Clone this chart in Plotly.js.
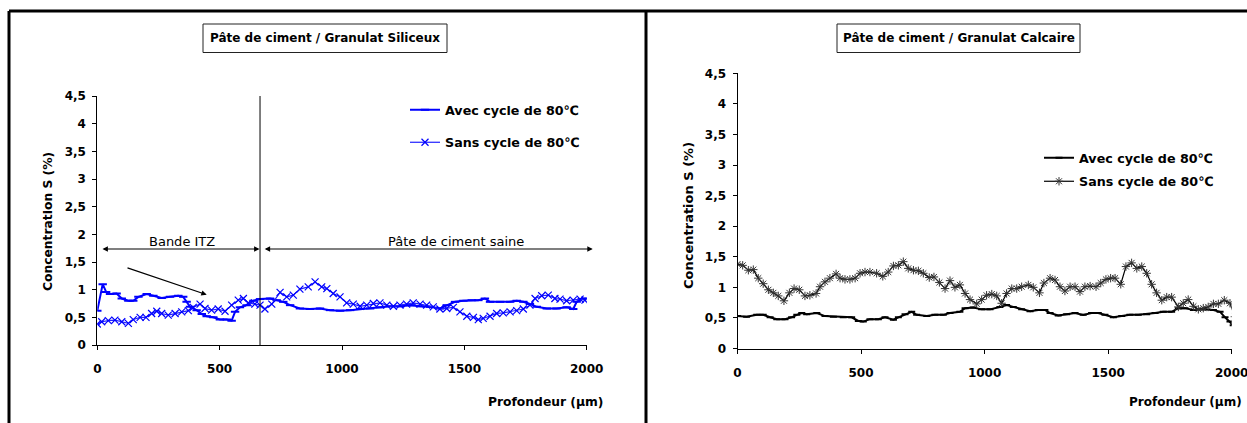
<!DOCTYPE html>
<html>
<head>
<meta charset="utf-8">
<script src="https://cdn.plot.ly/plotly-3.0.1.min.js"></script>
<style>html,body{margin:0;padding:0;background:#fff;}#chart{width:1247px;height:423px;}</style>
</head>
<body>
<div id="chart"></div>
<script>
// ---- Left chart: Pâte de ciment / Granulat Siliceux ----
const sil_avec_x = [0,22,36,52,79,100,127,147,168,202,229,263,297,331,351,365,379,406,427,447,474,501,529,549,563,583,610,638,665,706,733,760,788,828,869,910,951,992,1033,1074,1115,1155,1196,1237,1278,1319,1360,1400,1428,1462,1496,1530,1557,1584,1605,1646,1687,1714,1741,1768,1796,1837,1877,1918,1945,1959,1980,2000];
const sil_avec_y = [0.62,1.10,0.96,0.92,0.93,0.84,0.80,0.80,0.87,0.92,0.89,0.85,0.87,0.89,0.87,0.78,0.69,0.63,0.56,0.52,0.50,0.46,0.46,0.44,0.60,0.68,0.72,0.80,0.83,0.84,0.81,0.78,0.72,0.66,0.65,0.66,0.63,0.62,0.63,0.65,0.66,0.68,0.70,0.70,0.72,0.70,0.69,0.66,0.72,0.78,0.80,0.81,0.81,0.84,0.78,0.78,0.78,0.80,0.78,0.74,0.69,0.66,0.66,0.68,0.65,0.78,0.83,0.84];
const sil_sans_x = [0,18,45,72,100,127,147,175,199,222,243,263,290,318,345,372,392,420,440,467,494,522,549,576,597,617,644,665,685,713,747,774,801,828,862,890,917,938,964,992,1019,1046,1074,1101,1128,1155,1183,1210,1237,1264,1291,1319,1346,1373,1400,1428,1455,1482,1510,1537,1557,1577,1605,1632,1659,1687,1714,1741,1768,1789,1816,1843,1870,1891,1918,1945,1973,1993,2020];
const sil_sans_y = [0.38,0.42,0.44,0.45,0.42,0.39,0.46,0.50,0.50,0.57,0.61,0.57,0.54,0.57,0.60,0.62,0.68,0.74,0.66,0.63,0.65,0.61,0.72,0.81,0.84,0.76,0.74,0.72,0.65,0.74,0.95,0.87,0.90,1.01,1.05,1.14,1.05,1.02,0.93,0.87,0.76,0.74,0.70,0.72,0.75,0.76,0.72,0.70,0.72,0.74,0.76,0.74,0.72,0.69,0.65,0.66,0.68,0.60,0.52,0.50,0.46,0.48,0.52,0.57,0.58,0.60,0.62,0.65,0.72,0.84,0.89,0.90,0.84,0.83,0.80,0.81,0.83,0.81,0.66];

// ---- Right chart: Pâte de ciment / Granulat Calcaire ----
const cal_avec_x = [0,37,78,104,132,159,192,219,240,260,280,321,354,388,428,462,489,509,536,570,597,631,651,678,705,725,766,799,833,860,900,921,954,988,1022,1062,1089,1116,1150,1184,1217,1244,1265,1298,1332,1366,1399,1433,1460,1487,1521,1555,1588,1622,1656,1690,1723,1757,1784,1811,1845,1885,1926,1953,1973,1993,2006];
const cal_avec_y = [0.53,0.52,0.55,0.55,0.51,0.48,0.48,0.51,0.55,0.58,0.56,0.58,0.53,0.52,0.51,0.51,0.45,0.44,0.48,0.48,0.51,0.47,0.51,0.56,0.60,0.55,0.53,0.55,0.55,0.58,0.60,0.66,0.67,0.64,0.64,0.68,0.71,0.68,0.64,0.61,0.63,0.63,0.58,0.54,0.56,0.58,0.55,0.58,0.58,0.55,0.51,0.53,0.55,0.55,0.56,0.58,0.60,0.60,0.66,0.66,0.63,0.64,0.63,0.60,0.51,0.44,0.38];
const cal_sans_x = [0,21,44,64,84,104,125,145,165,188,210,229,250,273,293,318,334,354,374,399,415,435,455,476,496,516,536,563,588,610,631,651,671,691,712,732,752,776,795,817,840,860,880,900,921,941,968,988,1008,1029,1049,1069,1089,1110,1130,1150,1177,1197,1222,1240,1265,1285,1305,1325,1346,1366,1386,1406,1427,1451,1470,1491,1510,1528,1551,1572,1595,1616,1636,1656,1676,1696,1717,1737,1757,1784,1804,1824,1845,1865,1885,1905,1926,1946,1970,1993,2013];
const cal_sans_y = [1.38,1.36,1.28,1.29,1.15,1.06,0.96,0.91,0.86,0.78,0.91,0.98,0.96,0.86,0.87,0.90,1.01,1.09,1.15,1.22,1.15,1.13,1.13,1.15,1.23,1.25,1.25,1.23,1.18,1.25,1.35,1.36,1.42,1.31,1.28,1.27,1.23,1.16,1.17,1.08,0.98,1.11,1.00,1.04,0.90,0.80,0.73,0.80,0.87,0.89,0.86,0.74,0.90,0.98,0.98,1.01,1.04,1.00,0.91,1.07,1.15,1.12,1.01,0.94,1.01,1.01,0.93,1.01,1.02,1.01,1.07,1.13,1.15,1.15,1.05,1.34,1.40,1.31,1.34,1.23,1.05,0.91,0.79,0.84,0.84,0.68,0.74,0.80,0.69,0.64,0.66,0.68,0.73,0.73,0.79,0.74,0.52];

const xTickVals = [0,500,1000,1500,2000];
const xTickText = ['0','500','1000','1500','2000'];
const yTickVals = [0,0.5,1,1.5,2,2.5,3,3.5,4,4.5];
const yTickText = ['0','0,5','1','1,5','2','2,5','3','3,5','4','4,5'];

const seriesNames = ['Avec cycle de 80℃','Sans cycle de 80℃'];
const leftTitle = 'Pâte de ciment / Granulat Siliceux';
const rightTitle = 'Pâte de ciment / Granulat Calcaire';
const xTitle = 'Profondeur (µm)';
const yTitle = 'Concentration S (%)';
const zoneLabels = ['Bande ITZ','Pâte de ciment saine'];
const itzLimit = 665;

// ---- helpers (pixel -> paper) ----
const W = 1247, H = 423;
const px = v => v / W;
const py = v => (H - v) / H;

const FB = 'DejaVu Sans';
const boldFont = (s) => ({family: FB, size: s, color: '#000', weight: 'bold'});

const traces = [
  {x: sil_avec_x, y: sil_avec_y, name: seriesNames[0], xaxis: 'x', yaxis: 'y', legend: 'legend', legendgroup: 'a1',
   mode: 'lines+markers', line: {color: '#0000ff', width: 2},
   marker: {symbol: 'line-ew', size: 6, color: '#0000ff', line: {width: 2, color: '#0000ff'}}},
  {x: sil_sans_x, y: sil_sans_y, name: seriesNames[1], xaxis: 'x', yaxis: 'y', legend: 'legend', legendgroup: 'a2',
   mode: 'lines+markers', line: {color: '#2020ff', width: 1.2},
   marker: {symbol: 'x-thin', size: 7, color: '#0000ff', line: {width: 1.2, color: '#0000ff'}}},
  {x: cal_avec_x, y: cal_avec_y, name: seriesNames[0], xaxis: 'x2', yaxis: 'y2', legend: 'legend2', legendgroup: 'b1',
   mode: 'lines+markers', line: {color: '#000', width: 2},
   marker: {symbol: 'line-ew', size: 5, color: '#000', line: {width: 2, color: '#000'}}},
  {x: cal_sans_x, y: cal_sans_y, name: seriesNames[1], xaxis: 'x2', yaxis: 'y2', legend: 'legend2', legendgroup: 'b2',
   mode: 'lines+markers', line: {color: '#000', width: 1.2},
   marker: {symbol: 'asterisk', size: 7, color: '#333', line: {width: 1, color: '#333'}}}
];

const xAxisBase = {range: [0, 2000], tickvals: xTickVals, ticktext: xTickText, showline: true, linecolor: '#000', linewidth: 1,
  ticks: 'outside', ticklen: 4, tickcolor: '#000', showgrid: false, zeroline: false, tickfont: boldFont(12),
  ticklabelstandoff: 9, ticklabeloverflow: 'allow', fixedrange: true};
const yAxisBase = {range: [0, 4.5], tickvals: yTickVals, ticktext: yTickText, showline: true, linecolor: '#000', linewidth: 1,
  ticks: 'outside', ticklen: 4, tickcolor: '#000', showgrid: false, zeroline: false, tickfont: boldFont(12),
  ticklabelstandoff: 4, fixedrange: true};

const layout = {
  width: W, height: H,
  margin: {l: 0, r: 0, t: 0, b: 0},
  paper_bgcolor: '#fff', plot_bgcolor: 'rgba(0,0,0,0)',
  showlegend: true,
  xaxis: Object.assign({}, xAxisBase, {domain: [px(97.3), px(586.7)], anchor: 'y'}),
  yaxis: Object.assign({}, yAxisBase, {domain: [py(345), py(96)], anchor: 'x'}),
  xaxis2: Object.assign({}, xAxisBase, {domain: [px(737.5), px(1231.7)], anchor: 'y2'}),
  yaxis2: Object.assign({}, yAxisBase, {domain: [py(348.5), py(73.3)], anchor: 'x2'}),
  legend: {x: px(405), xanchor: 'left', y: py(95), yanchor: 'top', bgcolor: 'rgba(0,0,0,0)',
    font: boldFont(12.7), tracegroupgap: 13, itemwidth: 30},
  legend2: {x: px(1039), xanchor: 'left', y: py(143), yanchor: 'top', bgcolor: 'rgba(0,0,0,0)',
    font: boldFont(12.7), tracegroupgap: 4, itemwidth: 30},
  shapes: [
    // outer frames
    {type: 'line', xref: 'paper', yref: 'paper', x0: px(9), x1: px(1250), y0: py(11), y1: py(11), line: {color: '#000', width: 3}},
    {type: 'line', xref: 'paper', yref: 'paper', x0: px(9), x1: px(9), y0: py(11), y1: py(430), line: {color: '#000', width: 3}},
    {type: 'line', xref: 'paper', yref: 'paper', x0: px(646), x1: px(646), y0: py(11), y1: py(430), line: {color: '#000', width: 3}},
    // title boxes
    {type: 'rect', xref: 'paper', yref: 'paper', x0: px(203), x1: px(447), y0: py(52.5), y1: py(24), line: {color: '#222', width: 1}},
    {type: 'rect', xref: 'paper', yref: 'paper', x0: px(837), x1: px(1080), y0: py(52.5), y1: py(24), line: {color: '#222', width: 1}},
    // ITZ limit
    {type: 'line', xref: 'x', yref: 'y', x0: itzLimit, x1: itzLimit, y0: 0, y1: 4.5, line: {color: '#000', width: 1}}
  ],
  annotations: [
    {text: leftTitle, xref: 'paper', yref: 'paper', x: px(325), y: py(38.5), xanchor: 'center', yanchor: 'middle', showarrow: false, font: boldFont(12)},
    {text: rightTitle, xref: 'paper', yref: 'paper', x: px(958.5), y: py(38.5), xanchor: 'center', yanchor: 'middle', showarrow: false, font: boldFont(12)},
    {text: xTitle, xref: 'paper', yref: 'paper', x: px(545.5), y: py(402), xanchor: 'center', yanchor: 'middle', showarrow: false, font: boldFont(12.3)},
    {text: xTitle, xref: 'paper', yref: 'paper', x: px(1244), y: py(402), xanchor: 'right', yanchor: 'middle', showarrow: false, font: boldFont(12)},
    {text: yTitle, xref: 'paper', yref: 'paper', x: px(48), y: py(222), xanchor: 'center', yanchor: 'middle', textangle: -90, showarrow: false, font: boldFont(12.3)},
    {text: yTitle, xref: 'paper', yref: 'paper', x: px(688), y: py(216), xanchor: 'center', yanchor: 'middle', textangle: -90, showarrow: false, font: boldFont(13)},
    {text: zoneLabels[0], xref: 'paper', yref: 'paper', x: px(181.7), y: py(241), xanchor: 'center', yanchor: 'middle', showarrow: false, font: {family: FB, size: 13, color: '#000'}},
    {text: zoneLabels[1], xref: 'paper', yref: 'paper', x: px(456.3), y: py(241), xanchor: 'center', yanchor: 'middle', showarrow: false, font: {family: FB, size: 13, color: '#000'}},
    // double arrows
    {text: '', xref: 'paper', yref: 'paper', x: px(259.5), y: py(249), ax: -158.5, ay: 0, showarrow: true, arrowside: 'end+start',
     arrowhead: 2, startarrowhead: 2, arrowsize: 0.9, startarrowsize: 0.9, arrowwidth: 1.2, arrowcolor: '#000'},
    {text: '', xref: 'paper', yref: 'paper', x: px(592.7), y: py(249), ax: -329.5, ay: 0, showarrow: true, arrowside: 'end+start',
     arrowhead: 2, startarrowhead: 2, arrowsize: 0.9, startarrowsize: 0.9, arrowwidth: 1.2, arrowcolor: '#000'},
    // diagonal arrow
    {text: '', xref: 'paper', yref: 'paper', x: px(206.7), y: py(294.7), ax: -80.7, ay: -27.4, showarrow: true,
     arrowhead: 2, arrowsize: 0.9, arrowwidth: 1.2, arrowcolor: '#000'}
  ]
};

Plotly.newPlot('chart', traces, layout, {staticPlot: true, displayModeBar: false});
</script>
</body>
</html>
